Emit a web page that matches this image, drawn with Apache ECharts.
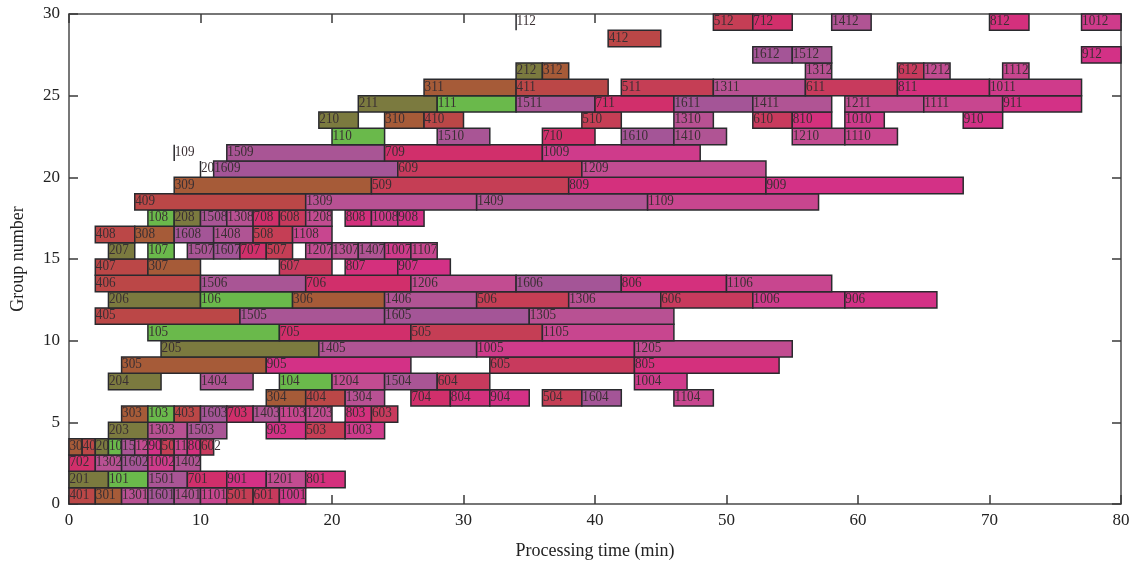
<!DOCTYPE html>
<html>
<head>
<meta charset="utf-8">
<script src="https://cdn.jsdelivr.net/npm/echarts@6/dist/echarts.min.js"></script>
<style>
  html, body { margin: 0; padding: 0; background: #fff; }
  #chart { width: 1137px; height: 569px; }
</style>
</head>
<body>
<div id="chart"></div>
<script>
// one list per group row: [operation, start, end] in minutes
const group01 = [['401', 0, 2], ['301', 2, 4], ['1301', 4, 6], ['1601', 6, 8], ['1401', 8, 10], ['1101', 10, 12], ['501', 12, 14], ['601', 14, 16], ['1001', 16, 18]]
const group02 = [['201', 0, 3], ['101', 3, 6], ['1501', 6, 9], ['701', 9, 12], ['901', 12, 15], ['1201', 15, 18], ['801', 18, 21]]
const group03 = [['702', 0, 2], ['1302', 2, 4], ['1602', 4, 6], ['1002', 6, 8], ['1402', 8, 10]]
const group04 = [['302', 0, 1], ['402', 1, 2], ['202', 2, 3], ['102', 3, 4], ['1502', 4, 5], ['1202', 5, 6], ['902', 6, 7], ['502', 7, 8], ['1102', 8, 9], ['802', 9, 10], ['602', 10, 11]]
const group05 = [['203', 3, 6], ['1303', 6, 9], ['1503', 9, 12], ['903', 15, 18], ['503', 18, 21], ['1003', 21, 24]]
const group06 = [['303', 4, 6], ['103', 6, 8], ['403', 8, 10], ['1603', 10, 12], ['703', 12, 14], ['1403', 14, 16], ['1103', 16, 18], ['1203', 18, 20], ['803', 21, 23], ['603', 23, 25]]
const group07 = [['304', 15, 18], ['404', 18, 21], ['1304', 21, 24], ['704', 26, 29], ['804', 29, 32], ['904', 32, 35], ['504', 36, 39], ['1604', 39, 42], ['1104', 46, 49]]
const group08 = [['204', 3, 7], ['1404', 10, 14], ['104', 16, 20], ['1204', 20, 24], ['1504', 24, 28], ['604', 28, 32], ['1004', 43, 47]]
const group09 = [['305', 4, 15], ['905', 15, 26], ['605', 32, 43], ['805', 43, 54]]
const group10 = [['205', 7, 19], ['1405', 19, 31], ['1005', 31, 43], ['1205', 43, 55]]
const group11 = [['105', 6, 16], ['705', 16, 26], ['505', 26, 36], ['1105', 36, 46]]
const group12 = [['405', 2, 13], ['1505', 13, 24], ['1605', 24, 35], ['1305', 35, 46]]
const group13 = [['206', 3, 10], ['106', 10, 17], ['306', 17, 24], ['1406', 24, 31], ['506', 31, 38], ['1306', 38, 45], ['606', 45, 52], ['1006', 52, 59], ['906', 59, 66]]
const group14 = [['406', 2, 10], ['1506', 10, 18], ['706', 18, 26], ['1206', 26, 34], ['1606', 34, 42], ['806', 42, 50], ['1106', 50, 58]]
const group15 = [['407', 2, 6], ['307', 6, 10], ['607', 16, 20], ['807', 21, 25], ['907', 25, 29]]
const group16 = [['207', 3, 5], ['107', 6, 8], ['1507', 9, 11], ['1607', 11, 13], ['707', 13, 15], ['507', 15, 17], ['1207', 18, 20], ['1307', 20, 22], ['1407', 22, 24], ['1007', 24, 26], ['1107', 26, 28]]
const group17 = [['408', 2, 5], ['308', 5, 8], ['1608', 8, 11], ['1408', 11, 14], ['508', 14, 17], ['1108', 17, 20]]
const group18 = [['108', 6, 8], ['208', 8, 10], ['1508', 10, 12], ['1308', 12, 14], ['708', 14, 16], ['608', 16, 18], ['1208', 18, 20], ['808', 21, 23], ['1008', 23, 25], ['908', 25, 27]]
const group19 = [['409', 5, 18], ['1309', 18, 31], ['1409', 31, 44], ['1109', 44, 57]]
const group20 = [['309', 8, 23], ['509', 23, 38], ['809', 38, 53], ['909', 53, 68]]
const group21 = [['209', 10, 10], ['1609', 11, 25], ['609', 25, 39], ['1209', 39, 53]]
const group22 = [['109', 8, 8], ['1509', 12, 24], ['709', 24, 36], ['1009', 36, 48]]
const group23 = [['110', 20, 24], ['1510', 28, 32], ['710', 36, 40], ['1610', 42, 46], ['1410', 46, 50], ['1210', 55, 59], ['1110', 59, 63]]
const group24 = [['210', 19, 22], ['310', 24, 27], ['410', 27, 30], ['510', 39, 42], ['1310', 46, 49], ['610', 52, 55], ['810', 55, 58], ['1010', 59, 62], ['910', 68, 71]]
const group25 = [['211', 22, 28], ['111', 28, 34], ['1511', 34, 40], ['711', 40, 46], ['1611', 46, 52], ['1411', 52, 58], ['1211', 59, 65], ['1111', 65, 71], ['911', 71, 77]]
const group26 = [['311', 27, 34], ['411', 34, 41], ['511', 42, 49], ['1311', 49, 56], ['611', 56, 63], ['811', 63, 70], ['1011', 70, 77]]
const group27 = [['212', 34, 36], ['312', 36, 38], ['1312', 56, 58], ['612', 63, 65], ['1212', 65, 67], ['1112', 71, 73]]
const group28 = [['1612', 52, 55], ['1512', 55, 58], ['912', 77, 80]]
const group29 = [['412', 41, 45]]
const group30 = [['112', 34, 34], ['512', 49, 52], ['712', 52, 55], ['1412', 58, 61], ['812', 70, 73], ['1012', 77, 80]]

const groups = [group01, group02, group03, group04, group05, group06, group07, group08, group09, group10,
  group11, group12, group13, group14, group15, group16, group17, group18, group19, group20,
  group21, group22, group23, group24, group25, group26, group27, group28, group29, group30]

// colour per job (leading digits of the operation code)
const jobColors = {
  1: '#6ab94b', 2: '#7b7a3f', 3: '#a65b38', 4: '#bb4747', 5: '#c53e55', 6: '#c83a5d',
  7: '#d12f6b', 8: '#d4307d', 9: '#d33186', 10: '#cf3b8b', 11: '#c8468f', 12: '#c24c91',
  13: '#b85193', 14: '#b05494', 15: '#a95595', 16: '#a45597'
}

const xTicks = { min: 0, max: 80, interval: 10 }
const yTicks = { min: 0, max: 30, interval: 5 }

const data = []
groups.forEach((row, i) => {
  row.forEach(op => {
    data.push([i + 1, op[1], op[2], op[0]])
  })
})

const serif = '"Liberation Serif", "DejaVu Serif", serif'

function renderItem (params, api) {
  const g = api.value(0)
  const p0 = api.coord([api.value(1), g])
  const p1 = api.coord([api.value(2), g - 1])
  const label = data[params.dataIndex][3]
  const job = parseInt(label.slice(0, label.length - 2), 10)
  const x = p0[0]
  const y = p0[1]
  const w = p1[0] - p0[0]
  const h = p1[1] - p0[1]
  return {
    type: 'group',
    children: [
      {
        type: 'rect',
        shape: { x: x, y: y, width: w, height: h },
        style: { fill: jobColors[job], stroke: '#2a2a2e', lineWidth: 1.5 }
      },
      {
        type: 'text',
        x: x + 0.5,
        y: y + h - 1,
        scaleX: 0.85,
        style: {
          x: 0,
          y: 0,
          text: label,
          font: '15.5px ' + serif,
          fill: '#3a2f33',
          align: 'left',
          verticalAlign: 'bottom'
        }
      }
    ]
  }
}

const axisLine = { show: true, onZero: false, lineStyle: { color: '#4a4a4a', width: 1.5 } }
const axisTick = { show: true, inside: true, length: 9, lineStyle: { color: '#3a3a3a', width: 1.5 } }
const tickLabel = { color: '#222', fontFamily: serif, fontSize: 17 }

const chart = echarts.init(document.getElementById('chart'))
chart.setOption({
  animation: false,
  backgroundColor: '#fff',
  grid: { left: 69, right: 16, top: 14, bottom: 65 },
  xAxis: [
    {
      type: 'value', ...xTicks, position: 'bottom',
      name: 'Processing time (min)', nameLocation: 'middle', nameGap: 38,
      nameTextStyle: { color: '#222', fontFamily: serif, fontSize: 18 },
      axisLine: axisLine, axisTick: axisTick, axisLabel: { ...tickLabel, margin: 8 },
      splitLine: { show: false }
    },
    {
      type: 'value', ...xTicks, position: 'top',
      axisLine: axisLine, axisTick: axisTick, axisLabel: { show: false },
      splitLine: { show: false }
    }
  ],
  yAxis: [
    {
      type: 'value', ...yTicks, position: 'left',
      name: 'Group number', nameLocation: 'middle', nameGap: 42, nameRotate: 90,
      nameTextStyle: { color: '#222', fontFamily: serif, fontSize: 18 },
      axisLine: axisLine, axisTick: axisTick, axisLabel: { ...tickLabel, margin: 9 },
      splitLine: { show: false }
    },
    {
      type: 'value', ...yTicks, position: 'right',
      axisLine: axisLine, axisTick: axisTick, axisLabel: { show: false },
      splitLine: { show: false }
    }
  ],
  series: [{
    type: 'custom',
    renderItem: renderItem,
    encode: { x: [1, 2], y: 0 },
    data: data
  }]
})
</script>
</body>
</html>
